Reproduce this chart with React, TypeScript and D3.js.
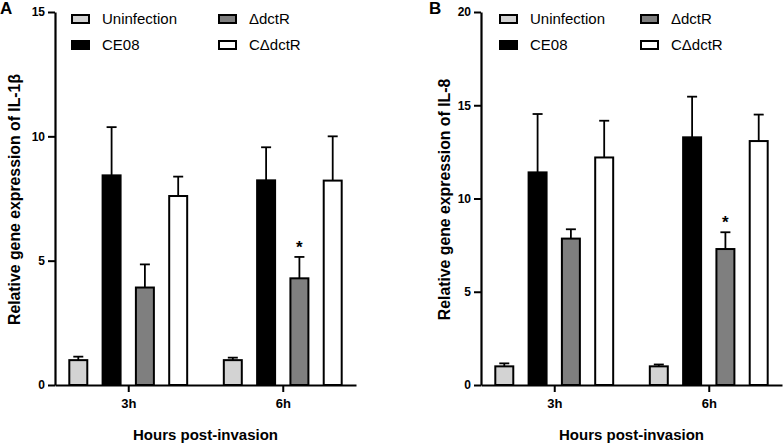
// ─ Imports ──────────────────────────────────────────────────────────────────────────────────────
import * as d3 from 'd3';
import { ReactElement, useEffect, useRef } from 'react';

// ─ Data ─────────────────────────────────────────────────────────────────────────────────────────
const hours = ['3h', '6h'];
const groups = ['Uninfection', 'CE08', 'ΔdctR', 'CΔdctR'];

// means / upper SD per hour, in group order
const il1bMeans = [
  [1.0, 8.43, 3.92, 7.6],
  [1.0, 8.23, 4.29, 8.22]
];
const il1bErrors = [
  [0.14, 1.94, 0.93, 0.78],
  [0.1, 1.33, 0.86, 1.78]
];
const il1bTicks = [0, 5, 10, 15];

const il8Means = [
  [1.0, 11.4, 7.85, 12.2],
  [1.0, 13.28, 7.29, 13.08]
];
const il8Errors = [
  [0.16, 3.13, 0.5, 1.97],
  [0.1, 2.18, 0.9, 1.42]
];
const il8Ticks = [0, 5, 10, 15, 20];

// significant bars (hour, group)
const starred = [['6h', 'ΔdctR']];

// ─ Styles ───────────────────────────────────────────────────────────────────────────────────────
const groupFills = ['#d3d3d3', '#000000', '#7f7f7f', '#ffffff'];
const FONT = '"Liberation Sans", Arial, Helvetica, sans-serif';

// ─ Types ────────────────────────────────────────────────────────────────────────────────────────
interface PanelSpec {
  letter: string;
  letterX: number;
  left: number;
  title: string;
  means: number[][];
  errors: number[][];
  ticks: number[];
  legendX: number;
  legendGap: number;
  titleX: number;
}

const panels: PanelSpec[] = [
  {
    letter: 'A', letterX: 0, left: 55, title: 'Relative gene expression of IL-1β',
    means: il1bMeans, errors: il1bErrors, ticks: il1bTicks, legendX: 16, legendGap: 147, titleX: -35
  },
  {
    letter: 'B', letterX: 429, left: 481, title: 'Relative gene expression of IL-8',
    means: il8Means, errors: il8Errors, ticks: il8Ticks, legendX: 18, legendGap: 141, titleX: -31
  }
];

const TOP = 12;
const BOTTOM = 385;
const PLOT_W = 301;

const drawPanel = (root: d3.Selection<SVGSVGElement, unknown, null, undefined>, spec: PanelSpec) => {
  const g = root.append('g').attr('transform', `translate(${spec.left},0)`);

  const maxTick = spec.ticks[spec.ticks.length - 1];
  const y = d3.scaleLinear().domain([0, maxTick]).range([BOTTOM, TOP]);
  const x0 = d3.scalePoint().domain(hours).range([0, PLOT_W]).padding(0.474);
  const x1 = d3.scaleBand().domain(groups).range([-66.6, 66.6]).paddingInner(0.4).paddingOuter(0.2);
  const bw = x1.bandwidth();

  // Bars + error bars
  hours.forEach((h, i) => {
    groups.forEach((grp, j) => {
      const mean = spec.means[i][j];
      const err = spec.errors[i][j];
      const bx = (x0(h) || 0) + (x1(grp) || 0);
      const cx = bx + bw / 2;

      g.append('line')
        .attr('x1', cx).attr('x2', cx)
        .attr('y1', y(mean)).attr('y2', y(mean + err))
        .attr('stroke', '#000').attr('stroke-width', 1.8);
      g.append('line')
        .attr('x1', cx - 5).attr('x2', cx + 5)
        .attr('y1', y(mean + err)).attr('y2', y(mean + err))
        .attr('stroke', '#000').attr('stroke-width', 1.8);

      g.append('rect')
        .attr('x', bx + 1)
        .attr('y', y(mean))
        .attr('width', bw - 2)
        .attr('height', y(0) - y(mean))
        .attr('fill', groupFills[j])
        .attr('stroke', '#000')
        .attr('stroke-width', 2);

      if (starred.some(([sh, sg]) => sh === h && sg === grp)) {
        g.append('text')
          .attr('x', cx)
          .attr('y', y(mean + err) - 4)
          .attr('text-anchor', 'middle')
          .style('font-family', FONT)
          .style('font-weight', 'bold')
          .style('font-size', '17px')
          .text('*');
      }
    });
  });

  // Y axis
  const yAxis = g.append('g')
    .call(d3.axisLeft(y).tickValues(spec.ticks).tickSize(7).tickSizeOuter(0).tickPadding(3));
  yAxis.selectAll('text')
    .style('font-family', FONT)
    .style('font-weight', 'bold')
    .style('font-size', '12px')
    .style('fill', '#000');

  // X axis
  const xAxis = g.append('g')
    .attr('transform', `translate(0,${BOTTOM})`)
    .call(d3.axisBottom(x0).tickSize(7).tickSizeOuter(0).tickPadding(7));
  xAxis.selectAll('text')
    .style('font-family', FONT)
    .style('font-weight', 'bold')
    .style('font-size', '13px')
    .style('fill', '#000');

  g.selectAll('.domain').style('stroke', '#000').style('stroke-width', 2.2);
  g.selectAll('.tick line').style('stroke', '#000').style('stroke-width', 2);

  // Axis titles
  g.append('text')
    .attr('transform', `translate(${spec.titleX},${(TOP + BOTTOM) / 2 + 1}) rotate(-90)`)
    .attr('text-anchor', 'middle')
    .style('font-family', FONT)
    .style('font-weight', 'bold')
    .style('font-size', '15.8px')
    .text(spec.title);

  g.append('text')
    .attr('x', PLOT_W / 2)
    .attr('y', 440)
    .attr('text-anchor', 'middle')
    .style('font-family', FONT)
    .style('font-weight', 'bold')
    .style('font-size', '15px')
    .text('Hours post-invasion');

  // Legend
  groups.forEach((grp, j) => {
    const col = Math.floor(j / 2);
    const row = j % 2;
    const lx = spec.legendX + col * spec.legendGap;
    const ly = 19 + row * 26;
    g.append('rect')
      .attr('x', lx + 1).attr('y', ly - 4)
      .attr('width', 17).attr('height', 8)
      .attr('fill', groupFills[j])
      .attr('stroke', '#000')
      .attr('stroke-width', 2);
    g.append('text')
      .attr('x', lx + 31)
      .attr('y', ly + 5)
      .style('font-family', FONT)
      .style('font-size', '15px')
      .text(grp);
  });

  // Panel letter
  root.append('text')
    .attr('x', spec.letterX)
    .attr('y', 14)
    .style('font-family', FONT)
    .style('font-weight', 'bold')
    .style('font-size', '17px')
    .text(spec.letter);
};

// ─ Component ────────────────────────────────────────────────────────────────────────────────────
const App = (): ReactElement => {
  const svgRef = useRef<SVGSVGElement>(null);

  useEffect(() => {
    if (!svgRef.current) { return; }
    const svg = d3.select(svgRef.current);
    svg.selectAll('*').remove();
    svg.append('rect').attr('width', 784).attr('height', 444).attr('fill', '#fff');
    panels.forEach(spec => drawPanel(svg, spec));
  }, []);

  return (
    <svg
      ref={svgRef}
      width={784}
      height={444}
      style={{ position: 'absolute', left: 0, top: 0, display: 'block' }}
    />
  );
};

// ─ Exports ──────────────────────────────────────────────────────────────────────────────────────
export default App;
